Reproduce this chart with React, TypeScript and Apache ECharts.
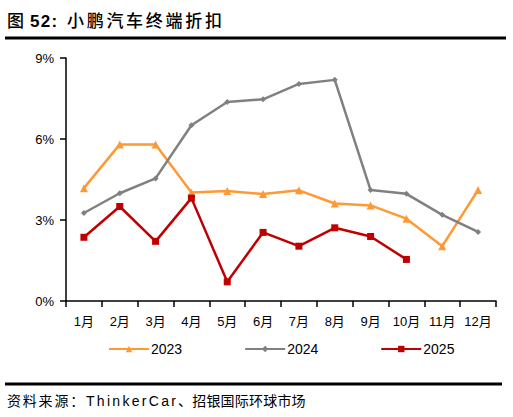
import React, { useEffect, useRef } from "react";
import * as echarts from "echarts";

const months = ["1月", "2月", "3月", "4月", "5月", "6月", "7月", "8月", "9月", "10月", "11月", "12月"];
const yTicks = ["0%", "3%", "6%", "9%"];
const discount2023 = [4.18, 5.8, 5.8, 4.02, 4.07, 3.96, 4.1, 3.61, 3.54, 3.05, 2.03, 4.11];
const discount2024 = [3.26, 3.99, 4.54, 6.51, 7.37, 7.47, 8.04, 8.19, 4.11, 3.97, 3.19, 2.56];
const discount2025 = [2.36, 3.5, 2.21, 3.81, 0.71, 2.54, 2.03, 2.71, 2.39, 1.54];

const FONT = "'Liberation Sans', Arial, 'Noto Sans CJK SC', sans-serif";

// rough Arial advance widths (em) for the latin letters we use
const latinWidth: Record<string, number> = {
  T: 0.611, h: 0.556, i: 0.222, n: 0.556, k: 0.5, e: 0.556, r: 0.333, C: 0.722, a: 0.556,
  "5": 0.556, "2": 0.556, ":": 0.333,
};

// lay a string out char by char, with a bit of extra tracking like the source pdf
const spacedText = (
  text: string, x: number, y: number, size: number, extra: number, weight = "normal"
) => {
  const out: any[] = [];
  let cx = x;
  for (const ch of text) {
    out.push({
      type: "text",
      x: cx,
      y,
      style: { text: ch, fontSize: size, fontWeight: weight, fill: "#000", fontFamily: FONT, textVerticalAlign: "middle" },
    });
    const w = latinWidth[ch] !== undefined ? latinWidth[ch] * size : size;
    cx += w + extra;
  }
  return out;
};

const App: React.FC = () => {
  const chartRef = useRef<HTMLDivElement>(null);

  useEffect(() => {
    document.body.style.margin = "0";
    const chart = echarts.init(chartRef.current!, null, { renderer: "svg" });

    chart.setOption({
      animation: false,
      backgroundColor: "#fff",
      textStyle: { fontFamily: FONT },
      grid: { left: 66, right: 17, top: 58, bottom: 116 },
      legend: {
        top: 337,
        left: 103,
        itemWidth: 40,
        itemHeight: 8,
        itemGap: 62,
        textStyle: { fontSize: 14, color: "#000", fontFamily: FONT, padding: [0, 0, 0, -3] },
        data: ["2023", "2024", "2025"],
      },
      xAxis: {
        type: "category",
        data: months,
        axisLine: { lineStyle: { color: "#000", width: 1.5 } },
        axisTick: { show: true, length: 6, lineStyle: { color: "#000", width: 1.5 } },
        axisLabel: { color: "#000", fontSize: 13, margin: 14, interval: 0 },
      },
      yAxis: {
        type: "value",
        min: 0,
        max: 9,
        interval: 3,
        splitLine: { show: false },
        axisLine: { show: true, lineStyle: { color: "#000", width: 1.5 } },
        axisTick: { show: true, length: 6, lineStyle: { color: "#000", width: 1.5 } },
        axisLabel: {
          color: "#000",
          fontSize: 13,
          margin: 12,
          formatter: (v: number) => yTicks[Math.round(v / 3)] ?? "",
        },
      },
      series: [
        {
          name: "2023",
          type: "line",
          data: discount2023,
          symbol: "triangle",
          symbolSize: 8,
          lineStyle: { color: "#FF9933", width: 2.5 },
          itemStyle: { color: "#FF9933" },
        },
        {
          name: "2024",
          type: "line",
          data: discount2024,
          symbol: "diamond",
          symbolSize: 6,
          lineStyle: { color: "#808080", width: 2.5 },
          itemStyle: { color: "#808080" },
        },
        {
          name: "2025",
          type: "line",
          data: discount2025,
          symbol: "rect",
          symbolSize: 7,
          lineStyle: { color: "#C00000", width: 2.5 },
          itemStyle: { color: "#C00000" },
        },
      ],
      graphic: [
        ...spacedText("图", 7, 21, 17, 0, "500"),
        ...spacedText("52:", 30, 21, 17, 1.3, "bold"),
        ...spacedText("小鹏汽车终端折扣", 67, 21, 17, 2.7, "500"),
        {
          type: "line",
          shape: { x1: 5, y1: 38, x2: 506, y2: 38 },
          style: { stroke: "#000", lineWidth: 3 },
        },
        {
          type: "line",
          shape: { x1: 5, y1: 384, x2: 502, y2: 384 },
          style: { stroke: "#000", lineWidth: 3 },
        },
        ...spacedText("资料来源：", 7, 401, 14, 1.8),
        ...spacedText("ThinkerCar", 86, 401, 14, 2.3),
        ...spacedText("、招银国际环球市场", 178, 401, 14, 0.2),
      ],
    });

    return () => {
      chart.dispose();
    };
  }, []);

  return <div ref={chartRef} style={{ width: 513, height: 417 }} />;
};

export default App;
